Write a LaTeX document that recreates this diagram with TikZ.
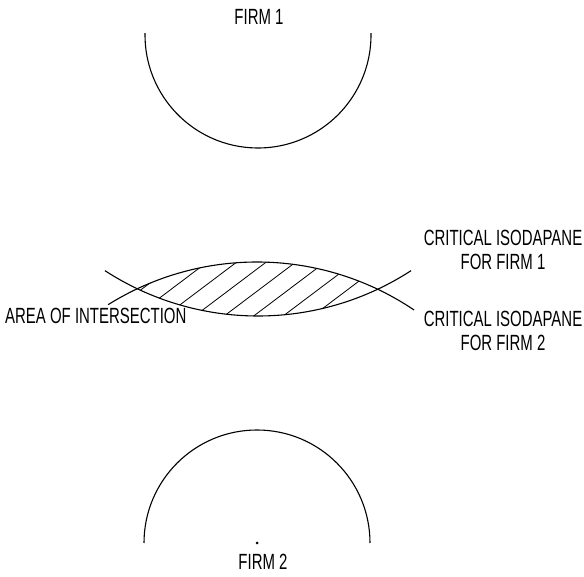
\documentclass[tikz,border=0pt]{standalone}
\usepackage{fontspec}
\setmainfont[FakeStretch=0.68]{Liberation Sans}
\begin{document}
\begin{tikzpicture}[x=1pt,y=1pt,
  curve/.style={line width=1.1pt},
  hatch/.style={line width=0.8pt},
  lbl/.style={inner sep=0pt,font=\fontsize{22}{26}\selectfont}]
\useasboundingbox (0,0) rectangle (584,576);

% firm locations
\coordinate (f1) at (258,541);
\coordinate (f2) at (257,33);
\fill (f2) circle[radius=1.5pt];

% small isodapanes around each firm
\draw[curve] ([shift={(179:113)}]f1) arc[start angle=179,end angle=361,radius=113];
\draw[curve] ([shift={(0:113)}]f2) arc[start angle=0,end angle=180,radius=113];

% critical isodapanes
\draw[curve] ([shift={(237:281)}]f1) arc[start angle=237,end angle=303,radius=281];
\draw[curve] ([shift={(122:281)}]f2) arc[start angle=122,end angle=56,radius=281];

% hatched area of intersection
\begin{scope}
  \clip (f1) circle[radius=281];
  \clip (f2) circle[radius=281];
  \foreach \k in {-6,...,6}{
    \draw[hatch] ({255+29.5*\k-80*1.327},{261-80}) -- ({255+29.5*\k+80*1.327},{261+80});
  }
\end{scope}

% labels
\node[lbl,anchor=base] (t1) at (259,551) {FIRM 1};
\node[lbl,anchor=base] (t2) at (263,6) {FIRM 2};
\node[lbl,anchor=base] (c1a) at (503,330) {CRITICAL ISODAPANE};
\node[lbl,anchor=base] (c1b) at (503,306) {FOR FIRM 1};
\node[lbl,anchor=base] (c2a) at (503,249) {CRITICAL ISODAPANE};
\node[lbl,anchor=base] (c2b) at (503,225) {FOR FIRM 2};
\node[lbl,anchor=base west] (area) at (5,252) {AREA OF INTERSECTION};
\end{tikzpicture}
\end{document}
